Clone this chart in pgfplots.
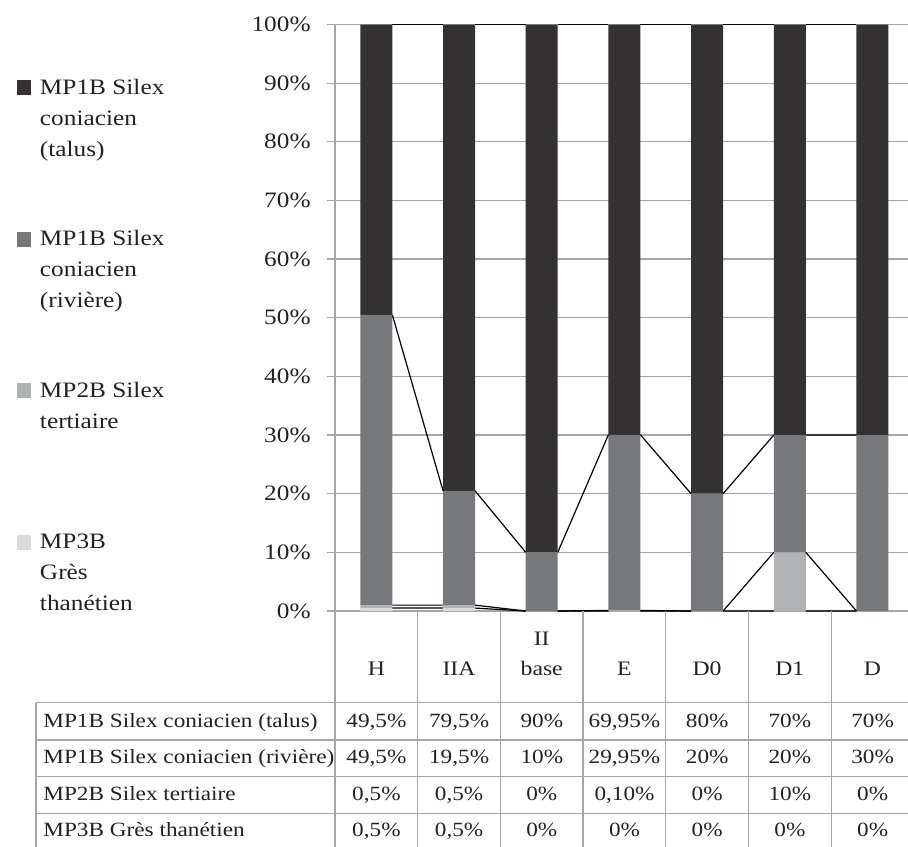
\documentclass[border=0pt]{standalone}
\usepackage{fontspec}
\setmainfont{Liberation Serif}[FakeStretch=1.15]
\usepackage{pgfplots}
\usepackage{pgfplotstable}
\pgfplotsset{compat=1.18}

\definecolor{talus}{HTML}{333132}
\definecolor{riviere}{HTML}{77787B}
\definecolor{tert}{HTML}{B1B2B4}
\definecolor{than}{HTML}{D9D9DA}
\definecolor{gridc}{HTML}{A6A6A6}
\definecolor{txt}{HTML}{222222}

% values (%) per category: H, IIA, II base, E, D0, D1, D
\pgfplotstableread{
x than tert riv tal
0 0.5 0.5 49.5 49.5
1 0.5 0.5 19.5 79.5
2 0   0   10   90
3 0   0.10 29.95 69.95
4 0   0   20   80
5 0   10  20   70
6 0   0   30   70
}\data

% series lines (cumulative tops), joining neighbouring bars
\pgfplotstableread{
x s1 s2 s3 s4
0.1935 0.5 1 50.5 100
0.8065 0.5 1 20.5 100
1.0 nan nan nan nan
1.1935 0.5 1 20.5 100
1.8065 0 0 10 100
2.0 nan nan nan nan
2.1935 0 0 10 100
2.8065 0 0.1 30.05 100
3.0 nan nan nan nan
3.1935 0 0.1 30.05 100
3.8065 0 0 20 100
4.0 nan nan nan nan
4.1935 0 0 20 100
4.8065 0 10 30 100
5.0 nan nan nan nan
5.1935 0 10 30 100
5.8065 0 0 30 100
}\serieslines

\newcommand{\legtxt}[1]{\renewcommand{\arraystretch}{1.148}\begin{tabular}[t]{@{}l@{}}#1\end{tabular}}

\begin{document}
\begin{tikzpicture}
\path[use as bounding box] (0,0) rectangle (454pt,-423pt);
\begin{axis}[
  at={(167.5pt,-305.5pt)}, anchor=south west,
  scale only axis, width=286.5pt, height=293.25pt,
  xmin=-0.5, xmax=6.43, ymin=0, ymax=100,
  ybar stacked, bar width=0.387,
  axis lines*=left,
  axis line style={gridc, line width=0.65pt, -},
  ymajorgrids, grid style={gridc, line width=0.65pt},
  ytick={0,10,...,100},
  yticklabels={0\%,10\%,20\%,30\%,40\%,50\%,60\%,70\%,80\%,90\%,100\%},
  ytick style={gridc, line width=0.65pt},
  tick align=outside, major tick length=4pt,
  yticklabel style={font=\fontsize{11}{13}\selectfont, text=txt, anchor=east, inner sep=0pt, xshift=-8pt},
  xtick={0,...,6},
  xticklabels={H,IIA,{\renewcommand{\arraystretch}{1.12}\begin{tabular}[b]{@{}c@{}}II\\base\end{tabular}},E,D0,D1,D},
  x tick style={draw=none},
  xticklabel style={anchor=base, yshift=-28pt, inner sep=0pt, font=\fontsize{10.3}{13}\selectfont, text=txt},
  reverse legend,
  legend style={at={(-0.555,0.925)}, anchor=north west, draw=none, fill=none,
    inner sep=0pt, outer sep=0pt,
    row sep={75.75pt,between origins}, column sep=2.5pt,
    cells={anchor=base west, inner sep=0pt},
    font=\fontsize{11}{13.5}\selectfont, text=txt},
]
\addplot[fill=than, draw=none, legend image code/.code={\fill[than] (0pt,-0.5pt) rectangle (7pt,7pt);}] table[x=x,y=than] {\data};
\addplot[fill=tert, draw=none, legend image code/.code={\fill[tert] (0pt,-0.5pt) rectangle (7pt,7pt);}] table[x=x,y=tert] {\data};
\addplot[fill=riviere, draw=none, legend image code/.code={\fill[riviere] (0pt,-0.5pt) rectangle (7pt,7pt);}] table[x=x,y=riv] {\data};
\addplot[fill=talus, draw=none, legend image code/.code={\fill[talus] (0pt,-0.5pt) rectangle (7pt,7pt);}] table[x=x,y=tal] {\data};
\legend{\legtxt{MP3B\\Grès\\thanétien},\legtxt{MP2B Silex\\tertiaire},\legtxt{MP1B Silex\\coniacien\\(rivière)},\legtxt{MP1B Silex\\coniacien\\(talus)}}
\end{axis}
\begin{axis}[
  at={(167.5pt,-305.5pt)}, anchor=south west,
  scale only axis, width=286.5pt, height=293.25pt,
  xmin=-0.5, xmax=6.43, ymin=0, ymax=100,
  hide axis, unbounded coords=jump, clip=false,
]
\addplot[black, line width=0.6pt] table[x=x,y=s1] {\serieslines};
\addplot[black, line width=0.6pt] table[x=x,y=s2] {\serieslines};
\addplot[black, line width=0.6pt] table[x=x,y=s3] {\serieslines};
\addplot[black, line width=0.6pt] table[x=x,y=s4] {\serieslines};
\end{axis}
\begin{scope}[x=0.5pt,y=-0.5pt]
  \draw[gridc, line width=0.65pt]
    (36,702.7) -- (920,702.7)
    (36,740) -- (920,740)
    (36,776.7) -- (920,776.7)
    (36,813.3) -- (920,813.3)
    (36,702.7) -- (36,860)
    (335,611) -- (335,860);
  \foreach \k in {1,...,6} {
    \draw[gridc, line width=0.65pt] ({335+82.7*\k},611) -- ({335+82.7*\k},860);
  }
  \begin{scope}[every node/.style={inner sep=0pt, text=txt, font=\fontsize{10.1}{12}\selectfont}]
  \node[anchor=base west] at (43,727) {MP1B Silex coniacien (talus)};
  \node[anchor=base west] at (43,763.5) {MP1B Silex coniacien (rivière)};
  \node[anchor=base west] at (43,800) {MP2B Silex tertiaire};
  \node[anchor=base west] at (43,836.5) {MP3B Grès thanétien};
  % row 1
  \node[anchor=base] at (376.4,727) {49,5\%};
  \node[anchor=base] at (459.1,727) {79,5\%};
  \node[anchor=base] at (541.8,727) {90\%};
  \node[anchor=base] at (624.5,727) {69,95\%};
  \node[anchor=base] at (707.2,727) {80\%};
  \node[anchor=base] at (789.9,727) {70\%};
  \node[anchor=base] at (872.6,727) {70\%};
  % row 2
  \node[anchor=base] at (376.4,763.5) {49,5\%};
  \node[anchor=base] at (459.1,763.5) {19,5\%};
  \node[anchor=base] at (541.8,763.5) {10\%};
  \node[anchor=base] at (624.5,763.5) {29,95\%};
  \node[anchor=base] at (707.2,763.5) {20\%};
  \node[anchor=base] at (789.9,763.5) {20\%};
  \node[anchor=base] at (872.6,763.5) {30\%};
  % row 3
  \node[anchor=base] at (376.4,800) {0,5\%};
  \node[anchor=base] at (459.1,800) {0,5\%};
  \node[anchor=base] at (541.8,800) {0\%};
  \node[anchor=base] at (624.5,800) {0,10\%};
  \node[anchor=base] at (707.2,800) {0\%};
  \node[anchor=base] at (789.9,800) {10\%};
  \node[anchor=base] at (872.6,800) {0\%};
  % row 4
  \node[anchor=base] at (376.4,836.5) {0,5\%};
  \node[anchor=base] at (459.1,836.5) {0,5\%};
  \node[anchor=base] at (541.8,836.5) {0\%};
  \node[anchor=base] at (624.5,836.5) {0\%};
  \node[anchor=base] at (707.2,836.5) {0\%};
  \node[anchor=base] at (789.9,836.5) {0\%};
  \node[anchor=base] at (872.6,836.5) {0\%};
  \end{scope}
\end{scope}
\end{tikzpicture}
\end{document}
